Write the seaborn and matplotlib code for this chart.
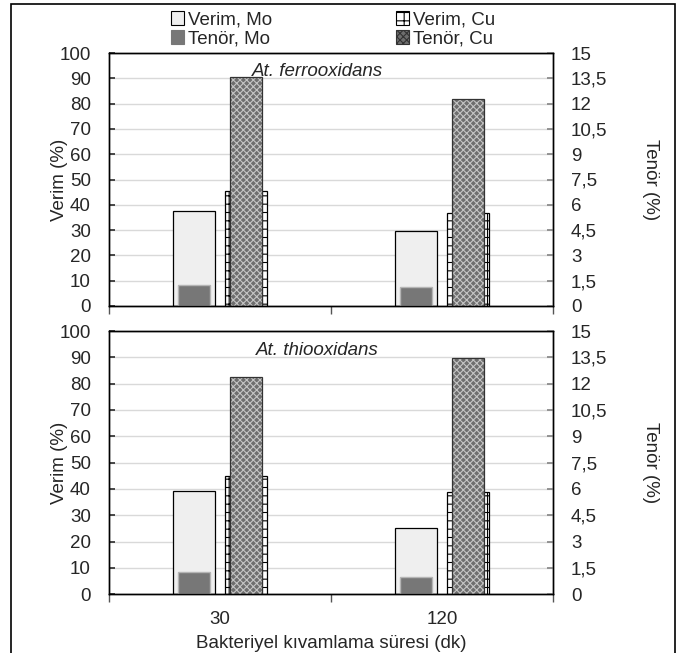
import matplotlib
matplotlib.use("Agg")
import matplotlib.pyplot as plt
import seaborn as sns
import pandas as pd
import numpy as np
from matplotlib.patches import Rectangle, Patch
from matplotlib.ticker import FixedLocator, FuncFormatter

# ---------------- data ----------------
times = ["30", "120"]
metals = ["Mo", "Cu"]
panel_titles = ["At. ferrooxidans", "At. thiooxidans"]

ferro_verim_mo = [37.6, 29.8]
ferro_verim_cu = [45.5, 36.6]
ferro_tenor_mo = [1.27, 1.15]
ferro_tenor_cu = [13.55, 12.3]

thio_verim_mo = [39.3, 25.2]
thio_verim_cu = [45.0, 38.9]
thio_tenor_mo = [1.25, 0.97]
thio_tenor_cu = [12.4, 13.45]

verim_ticks = list(range(0, 101, 10))
tenor_ticks = [0, 1.5, 3, 4.5, 6, 7.5, 9, 10.5, 12, 13.5, 15]

x_label = "Bakteriyel kıvamlama süresi (dk)"
y_left_label = "Verim (%)"
y_right_label = "Tenör (%)"
legend_labels = ["Verim, Mo", "Tenör, Mo", "Verim, Cu", "Tenör, Cu"]

# ---------------- style ----------------
sns.set_theme(style="white")
plt.rcParams["font.family"] = ["Liberation Sans", "DejaVu Sans"]
plt.rcParams["hatch.linewidth"] = 0.8

FS = 13.5
c_verim_mo = "#efefef"
c_verim_cu = "#ffffff"
c_tenor_mo = "#777777"
c_tenor_cu = "#6e6e6e"
hatch_cu_tenor_color = "#c4c4c4"

fig = plt.figure(figsize=(6.86, 6.53), dpi=100)

W = 686.0
H = 653.0
left = 109 / W
width = (553 - 109) / W
axes_boxes = [
    (left, 1 - 306 / H, width, (306 - 53) / H),
    (left, 1 - 594.3 / H, width, (594.3 - 331) / H),
]

panels = [
    (ferro_verim_mo, ferro_verim_cu, ferro_tenor_mo, ferro_tenor_cu),
    (thio_verim_mo, thio_verim_cu, thio_tenor_mo, thio_tenor_cu),
]


def fmt_comma(v, pos=None):
    s = ("%g" % v)
    return s.replace(".", ",")


for i, (vmo, vcu, tmo, tcu) in enumerate(panels):
    ax = fig.add_axes(axes_boxes[i])
    df_v = pd.DataFrame({
        "time": times * 2,
        "metal": ["Mo"] * len(times) + ["Cu"] * len(times),
        "value": list(vmo) + list(vcu),
    })
    df_t = pd.DataFrame({
        "time": times * 2,
        "metal": ["Mo"] * len(times) + ["Cu"] * len(times),
        "value": list(tmo) + list(tcu),
    })

    sns.barplot(data=df_v, x="time", y="value", hue="metal", order=times,
                hue_order=metals, palette={"Mo": c_verim_mo, "Cu": c_verim_cu},
                width=0.468, gap=0.19, errorbar=None, legend=False,
                edgecolor="black", linewidth=0.9, saturation=1, ax=ax)
    for p in ax.containers[1]:
        p.set_hatch("++")
        p.set_edgecolor("black")

    ax.set_ylim(0, 100)
    ax.set_xlim(-0.5, 1.5)
    ax.set_yticks(verim_ticks)
    ax.yaxis.grid(True, color="#d9d9d9", linewidth=1.0)
    ax.xaxis.grid(False)
    ax.set_axisbelow(True)
    ax.set_ylabel(y_left_label, fontsize=FS)
    ax.yaxis.set_label_coords((68 - 109) / 444, 0.5)
    ax.tick_params(axis="y", direction="in", length=4, pad=13, labelsize=FS,
                   color="#333333", left=True)

    ax2 = ax.twinx()
    sns.barplot(data=df_t, x="time", y="value", hue="metal", order=times,
                hue_order=metals, palette={"Mo": c_tenor_mo, "Cu": c_tenor_cu},
                width=0.468, gap=0.40, errorbar=None, legend=False,
                linewidth=0.9, saturation=1, ax=ax2)
    for p in ax2.containers[0]:
        p.set_edgecolor("#b5b5b5")
        p.set_linewidth(1.0)
    for p in ax2.containers[1]:
        p.set_hatch("xxxxx")
        if hasattr(p, "set_hatchcolor"):
            p.set_hatchcolor(hatch_cu_tenor_color)
            p.set_edgecolor("#333333")
            p.set_linewidth(0.9)
        else:
            p.set_edgecolor(hatch_cu_tenor_color)
            p.set_linewidth(0)
            ax2.add_patch(Rectangle(p.get_xy(), p.get_width(), p.get_height(),
                                    fill=False, edgecolor="#333333", linewidth=0.9))
    ax2.set_ylim(0, 15)
    ax2.set_yticks(tenor_ticks)
    ax2.yaxis.set_major_formatter(FuncFormatter(fmt_comma))
    ax2.grid(False)
    ax2.set_ylabel(y_right_label, fontsize=FS, rotation=-90, va="center")
    ax2.yaxis.set_label_coords((650 - 109) / 444, 0.5)
    ax2.tick_params(axis="y", direction="in", length=4, pad=13, labelsize=FS,
                    color="#888888", right=True)

    for a in (ax, ax2):
        for s in a.spines.values():
            s.set_visible(True)
            s.set_color("black")
            s.set_linewidth(1.0)

    # x ticks at category boundaries
    ax.xaxis.set_minor_locator(FixedLocator([-0.5, 0.5, 1.5]))
    ax.tick_params(axis="x", which="minor", direction="out", length=6,
                   color="#555555", bottom=True)
    ax.tick_params(axis="x", which="major", length=0, labelsize=FS, pad=12)
    ax2.tick_params(axis="x", which="both", length=0)
    ax.set_xlabel("")
    ax2.set_xlabel("")
    if i == 0:
        ax.set_xticklabels([])
    else:
        ax.set_xlabel(x_label, fontsize=FS, labelpad=5)

    ax2.text(0.47, 0.96, panel_titles[i], transform=ax.transAxes,
             ha="center", va="top", fontsize=FS, fontstyle="italic", zorder=10)

# legend
handles = [
    Patch(facecolor=c_verim_mo, edgecolor="black", linewidth=0.8),
    Patch(facecolor=c_tenor_mo, edgecolor=c_tenor_mo, linewidth=0.8),
    Patch(facecolor=c_verim_cu, edgecolor="black", linewidth=0.8, hatch="++"),
    Patch(facecolor=c_tenor_cu, edgecolor="#333333", linewidth=0.8, hatch="xxxxx"),
]
fig.legend(handles, legend_labels, ncol=2, loc="center",
           bbox_to_anchor=(333 / W, 1 - 29.5 / H), frameon=False, fontsize=FS,
           handlelength=0.7, handleheight=0.7, handletextpad=0.2,
           columnspacing=6.6, labelspacing=0.1, borderpad=0)

# outer frame
fig.patches.append(Rectangle((11 / W, -0.02), (675 - 11) / W, 1 - 4 / H + 0.02,
                             transform=fig.transFigure, fill=False,
                             edgecolor="black", linewidth=1.2))

fig.savefig("out.png", dpi=100)
